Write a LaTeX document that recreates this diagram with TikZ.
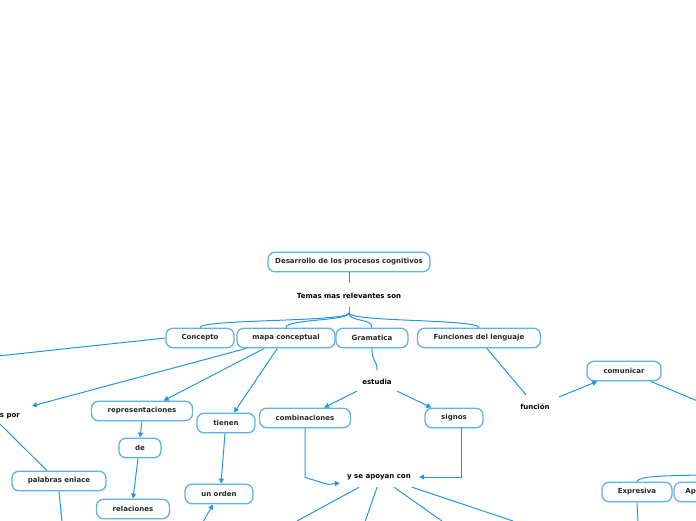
\documentclass[tikz,border=0pt]{standalone}
\usepackage{fontspec}
\setmainfont{DejaVu Sans}
\usetikzlibrary{arrows.meta,calc}
\definecolor{boxblue}{RGB}{98,176,232}
\definecolor{lineblue}{RGB}{36,150,222}
\definecolor{txt}{RGB}{40,40,40}
\tikzset{
  box/.style={draw=boxblue, line width=1.3pt, fill=white, rounded corners=7pt,
    minimum height=19.5pt, inner sep=0pt, text=txt, font=\bfseries\fontsize{7}{8}\selectfont},
  lbl/.style={inner sep=0pt, minimum height=18pt, text=black, font=\bfseries\fontsize{7}{8}\selectfont},
  conn/.style={draw=lineblue, line width=1pt},
  arr/.style={conn, -{Triangle[length=5pt,width=5pt]}}
}
\begin{document}
\begin{tikzpicture}[x=1pt,y=-1pt]
\useasboundingbox (0,0) rectangle (696,520);
\clip (0,0) rectangle (696,520);
% nodes
\node[box, minimum width=162pt] (root) at (349,262) {Desarrollo de los procesos cognitivos};
\node[lbl, minimum width=110pt] (temas) at (349,296) {Temas mas relevantes son};
\coordinate (hub) at (349,313);
\node[box, minimum width=68pt] (concepto) at (200,338) {Concepto};
\node[box, minimum width=98pt] (mapa) at (286,338) {mapa conceptual};
\node[box, minimum width=72pt] (gram) at (372,338) {Gramatica};
\node[box, minimum width=123pt] (func) at (479,338) {Funciones del lenguaje};
\node[lbl, anchor=east] (spor) at (20,416) {s por};
\node[box, minimum width=101pt] (repr) at (142,411) {representaciones};
\node[box, minimum width=42pt] (de) at (140,448) {de};
\node[box, minimum width=73pt] (rel) at (133,509) {relaciones};
\node[box, minimum width=58pt] (tienen) at (226,423) {tienen};
\node[box, minimum width=68pt] (unorden) at (219,494) {un orden};
\node[box, minimum width=94pt] (palabras) at (59,481) {palabras enlace};
\node[lbl, minimum width=40pt] (estudia) at (377,382) {estudia};
\node[box, minimum width=91pt] (comb) at (305,418) {combinaciones};
\node[box, minimum width=58pt] (signos) at (454,418) {signos};
\node[lbl, minimum width=66pt] (apoyan) at (379,477) {y se apoyan con};
\node[lbl, minimum width=36pt] (funcion) at (535,407) {función};
\node[box, minimum width=74pt] (comunicar) at (624,371) {comunicar};
\node[box, minimum width=70pt] (expresiva) at (637,492) {Expresiva};
\node[box, minimum width=60pt] (apel) at (704,492) {Apelativa};
% off-picture ends
\coordinate (offA) at (-2,356);
\coordinate (sporin) at (32,406);
\coordinate (sporout) at (0,424);
\coordinate (offB) at (62,522);
\coordinate (offC) at (203,522);
\coordinate (offD) at (297,521);
\coordinate (offE) at (365,522);
\coordinate (offF) at (442,521);
\coordinate (offG) at (513,521);
\coordinate (offH) at (700,402);
\coordinate (offI) at (700,475);
\coordinate (offJ) at (638,522);
% connectors
\draw[conn] (root.south) -- ([yshift=4pt]temas.north);
\draw[conn] ([yshift=-2pt]temas.south) -- (hub);
\draw[conn] (hub) .. controls (349,322) and (200,319) .. (concepto.north);
\draw[conn] (hub) .. controls (349,321) and (286,319) .. (mapa.north);
\draw[conn] (hub) .. controls (349,322) and (372,318) .. (gram.north);
\draw[conn] (hub) .. controls (349,322) and (479,319) .. (func.north);
\draw[conn] (concepto.west) -- (offA);
\draw[arr] ([xshift=10pt]mapa.south west) -- (sporin);
\draw[arr] ([xshift=28pt]mapa.south west) -- ([xshift=-29.5pt]repr.north east);
\draw[arr] ([xshift=41pt]mapa.south west) -- ([xshift=8pt]tienen.north);
\draw[conn] (sporout) -- ([xshift=-12pt]palabras.north);
\draw[conn] (palabras.south) -- (offB);
\draw[arr] (repr.south) -- (de.north);
\draw[arr] ([xshift=-2pt]de.south) -- (rel.north);
\draw[arr] ([xshift=-1pt]tienen.south) -- ([xshift=2pt]unorden.north);
\draw[arr] (offC) -- ([xshift=-6pt]unorden.south);
\draw[conn] (gram.south) .. controls (372,362) and (377,360) .. ([yshift=3pt]estudia.north);
\draw[arr] (estudia.south west) -- ([xshift=-27pt]comb.north east);
\draw[arr] (estudia.south east) -- ([xshift=7pt]signos.north west);
\draw[arr] (comb.south) -- ++(0,49) -- ++(23,7) -- ([shift={(-6pt,-6pt)}]apoyan.west);
\draw[arr] ([xshift=7pt]signos.south) |- ([xshift=7pt]apoyan.east);
\draw[conn] ([shift={(-20pt,-1pt)}]apoyan.south) -- (offD);
\draw[conn] ([shift={(-2pt,-1pt)}]apoyan.south) -- (offE);
\draw[conn] ([shift={(15pt,-1pt)}]apoyan.south) -- (offF);
\draw[conn] ([shift={(33pt,-1pt)}]apoyan.south) -- (offG);
\draw[conn] ([xshift=70pt]func.south west) -- ([shift={(-9pt,3pt)}]funcion.north);
\draw[arr] ([shift={(6pt,1pt)}]funcion.north east) -- ([xshift=11pt]comunicar.south west);
\draw[conn] ([xshift=-11pt]comunicar.south east) -- (offH);
\draw[conn] (expresiva.north) .. controls (639,476) and (660,476) .. (offI);
\draw[conn] (expresiva.south) -- (offJ);
\end{tikzpicture}
\end{document}
